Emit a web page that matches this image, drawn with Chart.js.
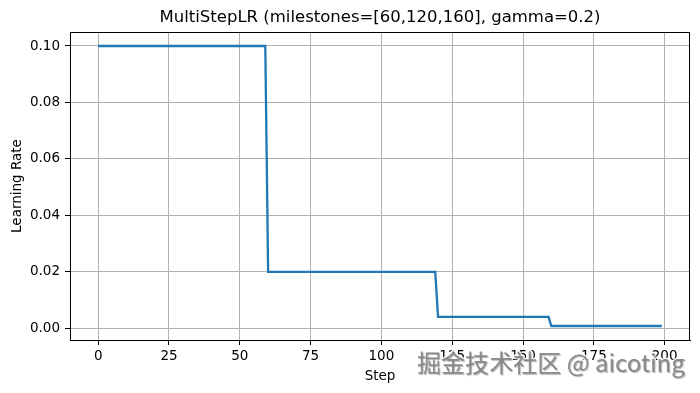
<!DOCTYPE html>
<html>
<head>
<meta charset="utf-8">
<script src="https://cdn.jsdelivr.net/npm/chart.js@4"></script>
<style>
  html, body { margin: 0; padding: 0; background: #fff; }
  #wrap { width: 700px; height: 393px; }
</style>
</head>
<body>
<div id="wrap"><canvas id="lr"></canvas></div>
<script>
// vertices of the schedule
const steps = [0, 59, 60, 119, 120, 159, 160, 199];
const learningRates = [0.1, 0.1, 0.02, 0.02, 0.004, 0.004, 0.0008, 0.0008];
const xTicks = [0, 25, 50, 75, 100, 125, 150, 175, 200];
const yTicks = [0.0, 0.02, 0.04, 0.06, 0.08, 0.10];
const titleText = 'MultiStepLR (milestones=[60,120,160], gamma=0.2)';
const watermark = '掘金技术社区 @ aicoting';

const FONT = 'DejaVu Sans';

// title, top/right frame and watermark
const decor = {
  id: 'decor',
  afterDraw(chart) {
    const { ctx, chartArea: a } = chart;
    ctx.save();
    ctx.strokeStyle = '#000';
    ctx.lineWidth = 1;
    ctx.strokeRect(a.left + 0.5, a.top + 0.5, a.right - a.left - 1, a.bottom - a.top);

    ctx.fillStyle = '#000';
    ctx.font = `16.5px "${FONT}"`;
    ctx.textAlign = 'center';
    ctx.textBaseline = 'middle';
    ctx.fillText(titleText, (a.left + a.right) / 2, 18);

    let size = 24;
    ctx.font = `${size}px "Noto Sans CJK SC"`;
    size = size * 268 / ctx.measureText(watermark).width;
    ctx.font = `${size}px "Noto Sans CJK SC"`;
    ctx.textAlign = 'left';
    ctx.textBaseline = 'alphabetic';
    ctx.lineJoin = 'round';
    ctx.strokeStyle = 'rgba(255,255,255,0.9)';
    ctx.lineWidth = 3;
    ctx.strokeText(watermark, 417, 372);
    ctx.shadowColor = 'rgba(0,0,0,0.35)';
    ctx.shadowOffsetX = 1;
    ctx.shadowOffsetY = 1;
    ctx.shadowBlur = 1;
    ctx.fillStyle = 'rgba(130,130,130,0.9)';
    ctx.fillText(watermark, 417, 372);
    ctx.restore();
  }
};

new Chart(document.getElementById('lr'), {
  type: 'line',
  data: {
    datasets: [{
      data: steps.map((s, i) => ({ x: s, y: learningRates[i] })),
      borderColor: '#1f77b4',
      borderWidth: 2.3,
      pointRadius: 0,
      tension: 0,
      fill: false
    }]
  },
  options: {
    responsive: true,
    maintainAspectRatio: false,
    animation: false,
    devicePixelRatio: 1,
    layout: { padding: { top: 32, right: 10, left: 0, bottom: 0 } },
    plugins: { legend: { display: false }, tooltip: { enabled: false } },
    scales: {
      x: {
        type: 'linear',
        min: -9.95,
        max: 208.95,
        afterBuildTicks: (s) => { s.ticks = xTicks.map(v => ({ value: v })); },
        afterFit: (s) => { s.height = 53; },
        grid: { color: '#b0b0b0', lineWidth: 1, tickColor: '#000', tickLength: 5 },
        border: { color: '#000', width: 1 },
        ticks: { color: '#000', font: { family: FONT, size: 13.5 }, padding: 3, maxRotation: 0 },
        title: { display: true, text: 'Step', color: '#000', font: { family: FONT, size: 13.5 }, padding: { top: 0, bottom: 8 } }
      },
      y: {
        min: -0.00416,
        max: 0.10496,
        afterBuildTicks: (s) => { s.ticks = yTicks.map(v => ({ value: v })); },
        afterFit: (s) => { s.width = 70; },
        grid: { color: '#b0b0b0', lineWidth: 1, tickColor: '#000', tickLength: 5 },
        border: { color: '#000', width: 1 },
        ticks: { color: '#000', font: { family: FONT, size: 13.5 }, padding: 5, callback: (v) => v.toFixed(2) },
        title: { display: true, text: 'Learning Rate', color: '#000', font: { family: FONT, size: 13.5 }, padding: { top: 9, bottom: 0 } }
      }
    }
  },
  plugins: [decor]
});
</script>
</body>
</html>
